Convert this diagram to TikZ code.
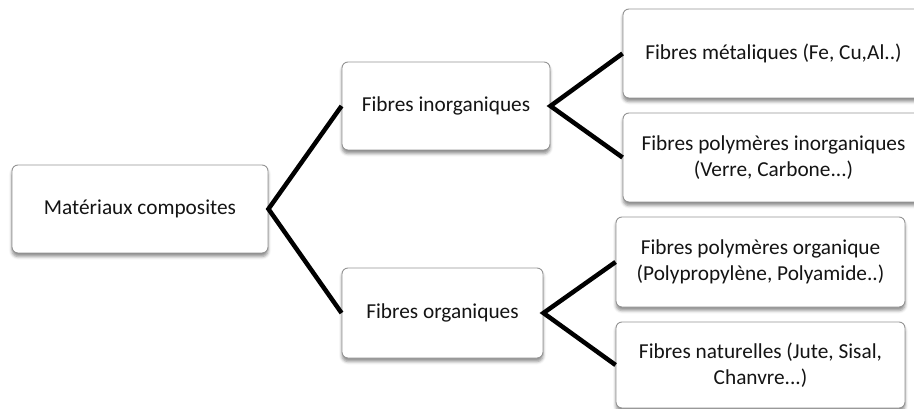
\documentclass[tikz,border=0pt]{standalone}
\usepackage{fontspec}
\setmainfont{Carlito}
\usetikzlibrary{shadows.blur}
\begin{document}
\begin{tikzpicture}[x=1pt,y=-1pt,
  box/.style={draw=black!42, line width=0.9pt, fill=white, rounded corners=6pt,
    align=center, inner sep=0pt, text=black!92,
    font=\fontsize{21.3}{25.5}\selectfont,
    blur shadow={shadow xshift=0pt, shadow yshift=-3.5pt,
      shadow blur radius=3pt, shadow opacity=45}},
  link/.style={line width=4.5pt, line join=miter, draw=black}]
  \useasboundingbox (0,0) rectangle (914,409);
  \clip (0,0) rectangle (914,409);

  % tree levels
  \node[box, minimum width=256pt, minimum height=88pt] (root) at (140,209) {Matériaux composites};
  \node[box, minimum width=208pt, minimum height=88pt] (inorg) at (446,106) {Fibres inorganiques};
  \node[box, minimum width=201pt, minimum height=90pt] (org) at (442.5,313) {Fibres organiques};
  \node[box, minimum width=301pt, minimum height=89pt] (metal) at (773.5,53.5) {Fibres métaliques (Fe, Cu,Al..)};
  \node[box, minimum width=301pt, minimum height=89pt] (polyin) at (773.5,157.5) {Fibres polymères inorganiques\\(Verre, Carbone...)};
  \node[box, minimum width=289pt, minimum height=90pt] (polyorg) at (760.5,262) {Fibres polymères organique\\(Polypropylène, Polyamide..)};
  \node[box, minimum width=289pt, minimum height=86pt] (nat) at (760.5,365) {Fibres naturelles (Jute, Sisal,\\Chanvre...)};

  % branches
  \draw[link] (inorg.west) -- (root.east) -- (org.west);
  \draw[link] (metal.west) -- (inorg.east) -- (polyin.west);
  \draw[link] (polyorg.west) -- (org.east) -- (nat.west);
\end{tikzpicture}
\end{document}
